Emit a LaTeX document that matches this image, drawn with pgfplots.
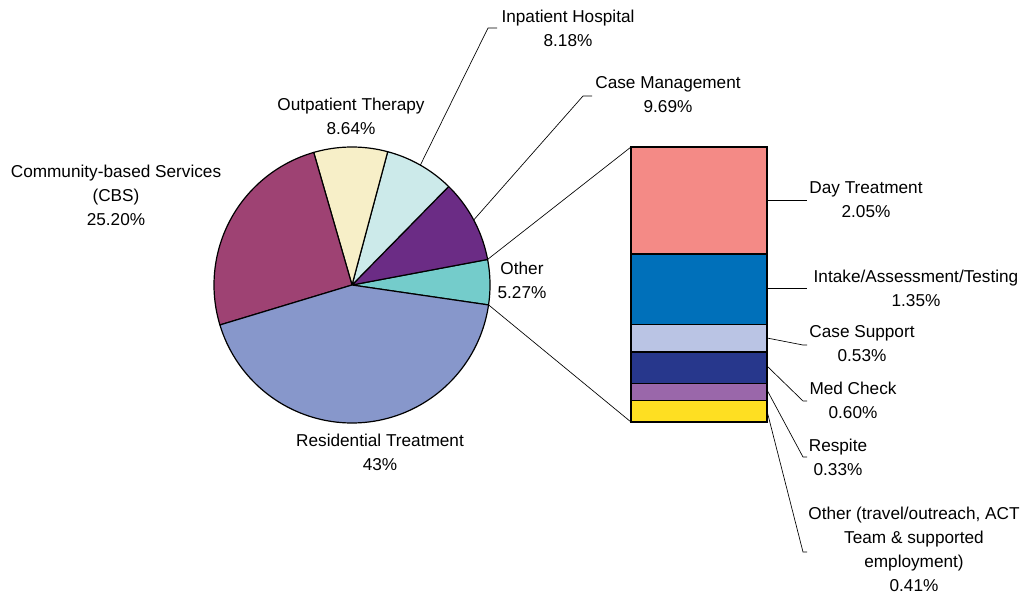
\documentclass[border=0pt]{standalone}
\usepackage{pgfplots}
\pgfplotsset{compat=1.18}
\usepackage{fontspec}
\setmainfont{Liberation Sans}
\definecolor{cRes}{RGB}{135,151,203}
\definecolor{cCBS}{RGB}{158,66,115}
\definecolor{cOut}{RGB}{247,239,200}
\definecolor{cInp}{RGB}{204,234,234}
\definecolor{cCM}{RGB}{107,44,133}
\definecolor{cOth}{RGB}{116,204,203}
\definecolor{cDay}{RGB}{244,138,134}
\definecolor{cInt}{RGB}{0,112,186}
\definecolor{cCS}{RGB}{186,196,228}
\definecolor{cMed}{RGB}{39,55,140}
\definecolor{cRsp}{RGB}{154,103,170}
\definecolor{cOB}{RGB}{254,223,34}
% pie shares (percent), counter-clockwise from -8.3 degrees (3.6 degrees per percent):
% Other 5.27, Case Management 9.69, Inpatient 8.18, Outpatient 8.64, CBS 25.20, Residential 43
\pgfplotsset{wedge/.style={draw=black, line width=0.9pt, line join=round, samples=80}}
\tikzset{lbl/.style={font=\fontsize{12.9}{18}\selectfont, align=center, inner sep=0pt}}
\begin{document}
\begin{tikzpicture}
\begin{axis}[name=main,
  scale only axis, width=768pt, height=445.5pt,
  xmin=0, xmax=1024, ymin=0, ymax=594, y dir=reverse,
  hide axis, clip=false]
\path (rel axis cs:0,0) rectangle (rel axis cs:1,1);
\addplot[wedge, fill=cOth, domain=-8.3:10.672] ({352+138*cos(x)}, {285-138*sin(x)}) -- (axis cs:352,285) -- cycle;
\addplot[wedge, fill=cCM, domain=10.672:45.556] ({352+138*cos(x)}, {285-138*sin(x)}) -- (axis cs:352,285) -- cycle;
\addplot[wedge, fill=cInp, domain=45.556:75.004] ({352+138*cos(x)}, {285-138*sin(x)}) -- (axis cs:352,285) -- cycle;
\addplot[wedge, fill=cOut, domain=75.004:106.108] ({352+138*cos(x)}, {285-138*sin(x)}) -- (axis cs:352,285) -- cycle;
\addplot[wedge, fill=cCBS, domain=106.108:196.828] ({352+138*cos(x)}, {285-138*sin(x)}) -- (axis cs:352,285) -- cycle;
\addplot[wedge, fill=cRes, domain=196.828:351.7] ({352+138*cos(x)}, {285-138*sin(x)}) -- (axis cs:352,285) -- cycle;
% connectors pie -> bar
\draw[line width=0.5pt] (487.6,259.4) -- (631,147);
\draw[line width=0.5pt] (488.6,304.9) -- (631,422);
% pie leaders
\draw[line width=0.5pt] (420.4,165) -- (488,28) -- (497,28);
\draw[line width=0.5pt] (473.7,220) -- (583,96) -- (592,96);
% bar leaders
\draw[line width=0.5pt] (767,200) -- (807,200);
\draw[line width=0.5pt] (767,288) -- (807,288);
\draw[line width=0.5pt] (767,338) -- (803,345) -- (807,345);
\draw[line width=0.5pt] (767,366) -- (803,401) -- (807,401);
\draw[line width=0.5pt] (767,390) -- (803,457) -- (807,457);
\draw[line width=0.5pt] (767,411) -- (803,552) -- (807,552);
% labels
\node[lbl] at (568,28) {Inpatient Hospital\\8.18\%};
\node[lbl] at (668,95) {Case Management\\9.69\%};
\node[lbl] at (351,116) {Outpatient Therapy\\8.64\%};
\node[lbl] at (116,195) {Community-based Services\\(CBS)\\25.20\%};
\node[lbl] at (522,280) {Other\\5.27\%};
\node[lbl] at (380,452) {Residential Treatment\\43\%};
\node[lbl] at (866,200) {Day Treatment\\2.05\%};
\node[lbl] at (916,288) {Intake/Assessment/Testing\\1.35\%};
\node[lbl] at (862,344) {Case Support\\0.53\%};
\node[lbl] at (853,400) {Med Check\\0.60\%};
\node[lbl] at (838,457) {Respite\\0.33\%};
\node[lbl] at (914,549) {Other (travel/outreach, ACT\\Team \& supported\\employment)\\0.41\%};
\coordinate (barSW) at (631,422);
\end{axis}
\begin{axis}[at={(barSW)}, anchor=south west,
  scale only axis, width=102pt, height=206.25pt,
  xmin=0, xmax=1, ymin=0, ymax=5.27, hide axis, clip=false,
  ybar stacked, bar width=102pt]
\addplot[fill=cOB, draw=black, line width=0.9pt] coordinates {(0.5,0.41)};
\addplot[fill=cRsp, draw=black, line width=0.9pt] coordinates {(0.5,0.33)};
\addplot[fill=cMed, draw=black, line width=0.9pt] coordinates {(0.5,0.60)};
\addplot[fill=cCS, draw=black, line width=0.9pt] coordinates {(0.5,0.53)};
\addplot[fill=cInt, draw=black, line width=0.9pt] coordinates {(0.5,1.35)};
\addplot[fill=cDay, draw=black, line width=0.9pt] coordinates {(0.5,2.05)};
\end{axis}
\end{tikzpicture}
\end{document}
